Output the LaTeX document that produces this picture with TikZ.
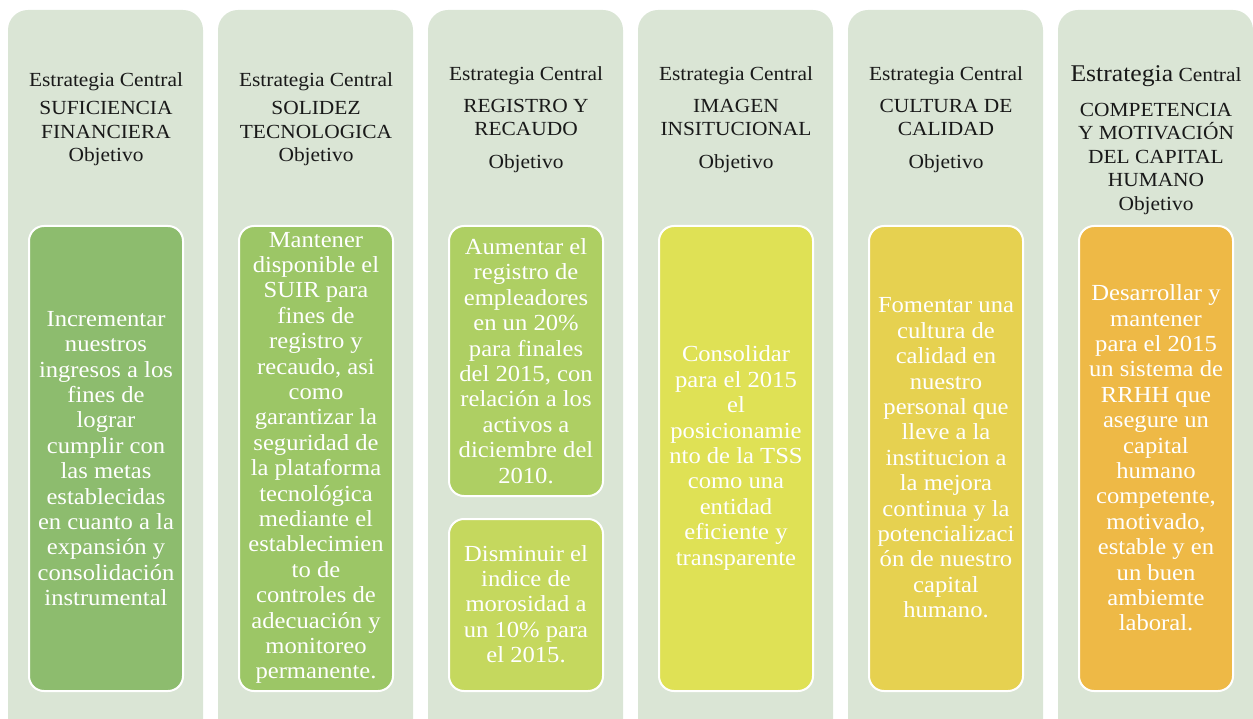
\documentclass[tikz,border=0pt]{standalone}
\usepackage{fontspec}
\setmainfont[FakeStretch=1.07]{Liberation Serif}
\definecolor{panelbg}{RGB}{218,229,213}
\definecolor{cA}{RGB}{141,188,110}
\definecolor{cB}{RGB}{156,198,102}
\definecolor{cC}{RGB}{174,207,99}
\definecolor{cD}{RGB}{197,216,94}
\definecolor{cE}{RGB}{223,225,85}
\definecolor{cF}{RGB}{230,209,80}
\definecolor{cG}{RGB}{238,185,70}
\definecolor{headtext}{RGB}{25,25,25}
\begin{document}
\begin{tikzpicture}[x=1pt,y=-1pt,
  panelbox/.style={fill=panelbg, rounded corners=20pt},
  objbox/.style={draw=white, line width=2pt, rounded corners=15pt},
  head/.style={align=center, text=headtext, font=\fontsize{20pt}{23.5pt}\selectfont, inner sep=0pt},
  body/.style={align=center, text=white, font=\fontsize{23pt}{25.4pt}\selectfont, inner sep=0pt}]
\useasboundingbox (0,0) rectangle (1253,719);
\clip (0,0) rectangle (1253,719);
% panels
\foreach \px in {8,218,428,638,848,1058}{
  \fill[panelbox] (\px,10) rectangle ++(195,760);
}
% inner boxes
\filldraw[objbox, fill=cA] (29,226) rectangle (183,691);
\filldraw[objbox, fill=cB] (239,226) rectangle (393,691);
\filldraw[objbox, fill=cC] (449,226) rectangle (603,496);
\filldraw[objbox, fill=cD] (449,519) rectangle (603,691);
\filldraw[objbox, fill=cE] (659,226) rectangle (813,691);
\filldraw[objbox, fill=cF] (869,226) rectangle (1023,691);
\filldraw[objbox, fill=cG] (1079,226) rectangle (1233,691);
% headers
\node[head] (h1) at (106,119) {Estrategia Central\\[5pt]SUFICIENCIA\\FINANCIERA\\Objetivo};
\node[head] (h2) at (316,119) {Estrategia Central\\[5pt]SOLIDEZ\\TECNOLOGICA\\Objetivo};
\node[head] (h3) at (526,119.5) {Estrategia Central\\[8pt]REGISTRO Y\\RECAUDO\\[9pt]Objetivo};
\node[head] (h4) at (736,119.5) {Estrategia Central\\[8pt]IMAGEN\\INSITUCIONAL\\[9pt]Objetivo};
\node[head] (h5) at (946,119.5) {Estrategia Central\\[8pt]CULTURA DE\\CALIDAD\\[9pt]Objetivo};
\node[head] (h6) at (1156,140) {{\fontsize{24pt}{23.5pt}\selectfont Estrategia} Central\\[11pt]COMPETENCIA\\Y MOTIVACIÓN\\DEL CAPITAL\\HUMANO\\Objetivo};
% objectives
\node[body] (o1) at (106,458.5) {Incrementar\\nuestros\\ingresos a los\\fines de\\lograr\\cumplir con\\las metas\\establecidas\\en cuanto a la\\expansión y\\consolidación\\instrumental};
\node[body] (o2) at (316,458) {Mantener\\disponible el\\SUIR para\\fines de\\registro y\\recaudo, asi\\como\\garantizar la\\seguridad de\\la plataforma\\tecnológica\\mediante el\\establecimien\\to de\\controles de\\adecuación y\\monitoreo\\permanente.};
\node[body] (o3a) at (526,361) {Aumentar el\\registro de\\empleadores\\en un 20\%\\para finales\\del 2015, con\\relación a los\\activos a\\diciembre del\\2010.};
\node[body] (o3b) at (526,604) {Disminuir el\\indice de\\morosidad a\\un 10\% para\\el 2015.};
\node[body] (o4) at (736,458) {Consolidar\\para el 2015\\el\\posicionamie\\nto de la TSS\\como una\\entidad\\eficiente y\\transparente};
\node[body] (o5) at (946,458) {Fomentar una\\cultura de\\calidad en\\nuestro\\personal que\\lleve a la\\institucion a\\la mejora\\continua y la\\potencializaci\\ón de nuestro\\capital\\humano.};
\node[body] (o6) at (1156,458) {Desarrollar y\\mantener\\para el 2015\\un sistema de\\RRHH que\\asegure un\\capital\\humano\\competente,\\motivado,\\estable y en\\un buen\\ambiemte\\laboral.};
\end{tikzpicture}
\end{document}
